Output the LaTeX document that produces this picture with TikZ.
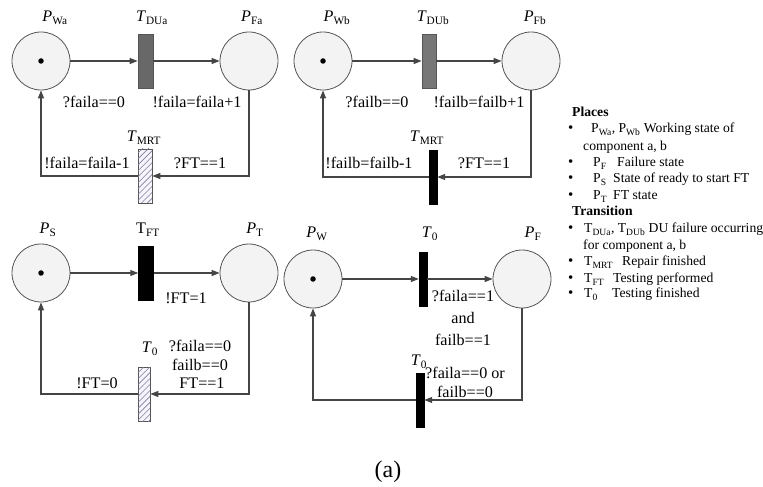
\documentclass[tikz,border=0pt]{standalone}
\usepackage{fontspec}
\setmainfont{Liberation Serif}
\usetikzlibrary{arrows.meta,patterns.meta}

\definecolor{linegray}{HTML}{454545}
\definecolor{rimgray}{HTML}{555555}
\definecolor{placefill}{HTML}{F3F3F3}
\definecolor{dugray}{HTML}{686868}
\definecolor{hatchbg}{HTML}{F6F5FB}
\definecolor{hatchln}{HTML}{7F7D9E}

\tikzset{
  place/.style={circle, draw=rimgray, line width=0.8bp, fill=placefill,
    minimum size=58bp, inner sep=0pt},
  token/.style={circle, fill=black, minimum size=5.5bp, inner sep=0pt},
  transbox/.style={rectangle, minimum height=54bp, inner sep=0pt},
  dubox/.style={transbox, draw=rimgray, line width=0.8bp, fill=dugray, minimum width=15bp},
  blackbox/.style={transbox, fill=black, draw=black, minimum width=8bp},
  hatchbox/.style={transbox, draw=rimgray, line width=0.8bp, fill=hatchbg,
    postaction={pattern={Lines[angle=45, distance=4.2bp, line width=0.6bp]},
      pattern color=hatchln}},
  arc/.style={draw=linegray, line width=1.2bp, -{Triangle[length=8bp,width=6bp]}},
  lbl/.style={font=\fontsize{16.2}{19}\selectfont, inner sep=0pt},
  lgd/.style={font=\fontsize{13.7}{16}\selectfont, inner sep=0pt, anchor=base west},
  lgdhead/.style={lgd, font=\fontsize{13.7}{16}\selectfont\bfseries},
  bul/.style={lgd, font=\fontsize{15}{16}\selectfont},
}

\begin{document}
\begin{tikzpicture}[x=1bp,y=-1bp]
\useasboundingbox (0,0) rectangle (763,487);

% ---------- component a ----------
\node[place] (PWa) at (41,61) {};
\node[token] (tWa) at (PWa.center) {};
\node[dubox] (TDUa) at (145.5,61) {};
\node[place] (PFa) at (249,61) {};
\node[hatchbox, minimum width=14bp] (TMRTa) at (145,176) {};

\node[lbl] (lPWa) at (55,18) {\textit{P}\textsubscript{Wa}};
\node[lbl] (lTDUa) at (152,18) {\textit{T}\textsubscript{DUa}};
\node[lbl] (lPFa) at (252,18) {\textit{P}\textsubscript{Fa}};
\node[lbl] (lTMRTa) at (144,138) {\textit{T}\textsubscript{MRT}};
\node[lbl] (ga1) at (94,102) {?faila==0};
\node[lbl] (ga2) at (197,102) {!faila=faila+1};
\node[lbl] (ga3) at (87,163) {!faila=faila-1};
\node[lbl] (ga4) at (200,163) {?FT==1};

\draw[arc] (PWa) -- (TDUa);
\draw[arc] (TDUa) -- (PFa);
\draw[arc] (PFa.south) |- (TMRTa.east);
\draw[arc] (TMRTa.west) -| (PWa.south);

% ---------- component b ----------
\node[place] (PWb) at (323,61) {};
\node[token] (tWb) at (PWb.center) {};
\node[dubox, minimum width=14bp, fill=dugray!90!white] (TDUb) at (429,61) {};
\node[place] (PFb) at (531,61) {};
\node[blackbox] (TMRTb) at (433,177) {};

\node[lbl] (lPWb) at (337,18) {\textit{P}\textsubscript{Wb}};
\node[lbl] (lTDUb) at (433,18) {\textit{T}\textsubscript{DUb}};
\node[lbl] (lPFb) at (535,18) {\textit{P}\textsubscript{Fb}};
\node[lbl] (lTMRTb) at (427,138) {\textit{T}\textsubscript{MRT}};
\node[lbl] (gb1) at (377,102) {?failb==0};
\node[lbl] (gb2) at (479,102) {!failb=failb+1};
\node[lbl] (gb3) at (369,163) {!failb=failb-1};
\node[lbl] (gb4) at (484,163) {?FT==1};

\draw[arc] (PWb) -- (TDUb);
\draw[arc] (TDUb) -- (PFb);
\draw[arc] (PFb.south) |- (TMRTb.east);
\draw[arc] (TMRTb.west) -| (PWb.south);

% ---------- function test ----------
\node[place] (PS) at (41,273) {};
\node[token] (tS) at (PS.center) {};
\node[transbox, fill=black, draw=black, minimum width=15bp] (TFT) at (146,273) {};
\node[place] (PT) at (249,273) {};
\node[hatchbox, minimum width=12bp] (T0a) at (144,394) {};

\node[lbl] (lPS) at (48,230) {\textit{P}\textsubscript{S}};
\node[lbl] (lTFT) at (148,230) {T\textsubscript{FT}};
\node[lbl] (lPT) at (255,230) {\textit{P}\textsubscript{T}};
\node[lbl] (lT0a) at (150,349) {\textit{T}\textsubscript{0}};
\node[lbl] (gt1) at (186,298) {!FT=1};
\node[lbl] (gt2a) at (200,346) {?faila==0};
\node[lbl] (gt2b) at (200,364.5) {failb==0};
\node[lbl] (gt2c) at (202,383) {FT==1};
\node[lbl] (gt3) at (97,383) {!FT=0};

\draw[arc] (PS) -- (TFT);
\draw[arc] (TFT) -- (PT);
\draw[arc] (PT.south) |- (T0a.east);
\draw[arc] (T0a.west) -| (PS.south);

% ---------- system failure ----------
\node[place] (PW) at (313,279) {};
\node[token] (tW) at (PW.center) {};
\node[blackbox] (T0b) at (423,279) {};
\node[place] (PF) at (522,279) {};
\node[blackbox] (T0c) at (420,400) {};

\node[lbl] (lPW) at (317,234) {\textit{P}\textsubscript{W}};
\node[lbl] (lT0b) at (430,234) {\textit{T}\textsubscript{0}};
\node[lbl] (lPF) at (533,234) {\textit{P}\textsubscript{F}};
\node[lbl] (lT0c) at (419,362) {\textit{T}\textsubscript{0}};
\node[lbl] (gs1) at (463,296) {?faila==1};
\node[lbl] (gs2) at (463,318) {and};
\node[lbl] (gs3) at (463,340) {failb==1};
\node[lbl] (gs4) at (465,373) {?faila==0 or};
\node[lbl] (gs5) at (465,392) {failb==0};

\draw[arc] (PW) -- (T0b);
\draw[arc] (T0b) -- (PF);
\draw[arc] (PF.south) |- (T0c.east);
\draw[arc] (T0c.west) -| (PW.south);

% ---------- legend ----------
\node[lgdhead] (hP) at (572,117) {Places};
\node[bul] (b1) at (568,133) {\textbullet};
\node[lgd] (e1) at (591,133) {P\textsubscript{Wa}, P\textsubscript{Wb} Working state of};
\node[lgd] (e1b) at (583,151) {component a, b};
\node[bul] (b2) at (568,167) {\textbullet};
\node[lgd] (s2) at (593,167) {P\textsubscript{F}};
\node[lgd] (e2) at (617,167) {Failure state};
\node[bul] (b3) at (568,183) {\textbullet};
\node[lgd] (s3) at (593,183) {P\textsubscript{S}};
\node[lgd] (e3) at (613,183) {State of ready to start FT};
\node[bul] (b4) at (568,200) {\textbullet};
\node[lgd] (s4) at (593,200) {P\textsubscript{T}};
\node[lgd] (e4) at (613,200) {FT state};
\node[lgdhead] (hT) at (572,216) {Transition};
\node[bul] (b5) at (568,233) {\textbullet};
\node[lgd] (e5) at (584,233) {T\textsubscript{DUa}, T\textsubscript{DUb} DU failure occurring};
\node[lgd] (e5b) at (583,250) {for component a, b};
\node[bul] (b6) at (568,266) {\textbullet};
\node[lgd] (s6) at (584,266) {T\textsubscript{MRT}};
\node[lgd] (e6) at (622,266) {Repair finished};
\node[bul] (b7) at (568,283) {\textbullet};
\node[lgd] (s7) at (584,283) {T\textsubscript{FT}};
\node[lgd] (e7) at (613,283) {Testing performed};
\node[bul] (b8) at (568,298) {\textbullet};
\node[lgd] (s8) at (584,298) {T\textsubscript{0}};
\node[lgd] (e8) at (612,298) {Testing finished};

% ---------- caption ----------
\node[font=\fontsize{24}{28}\selectfont, inner sep=0pt] (cap) at (388,472) {(a)};
\end{tikzpicture}
\end{document}
